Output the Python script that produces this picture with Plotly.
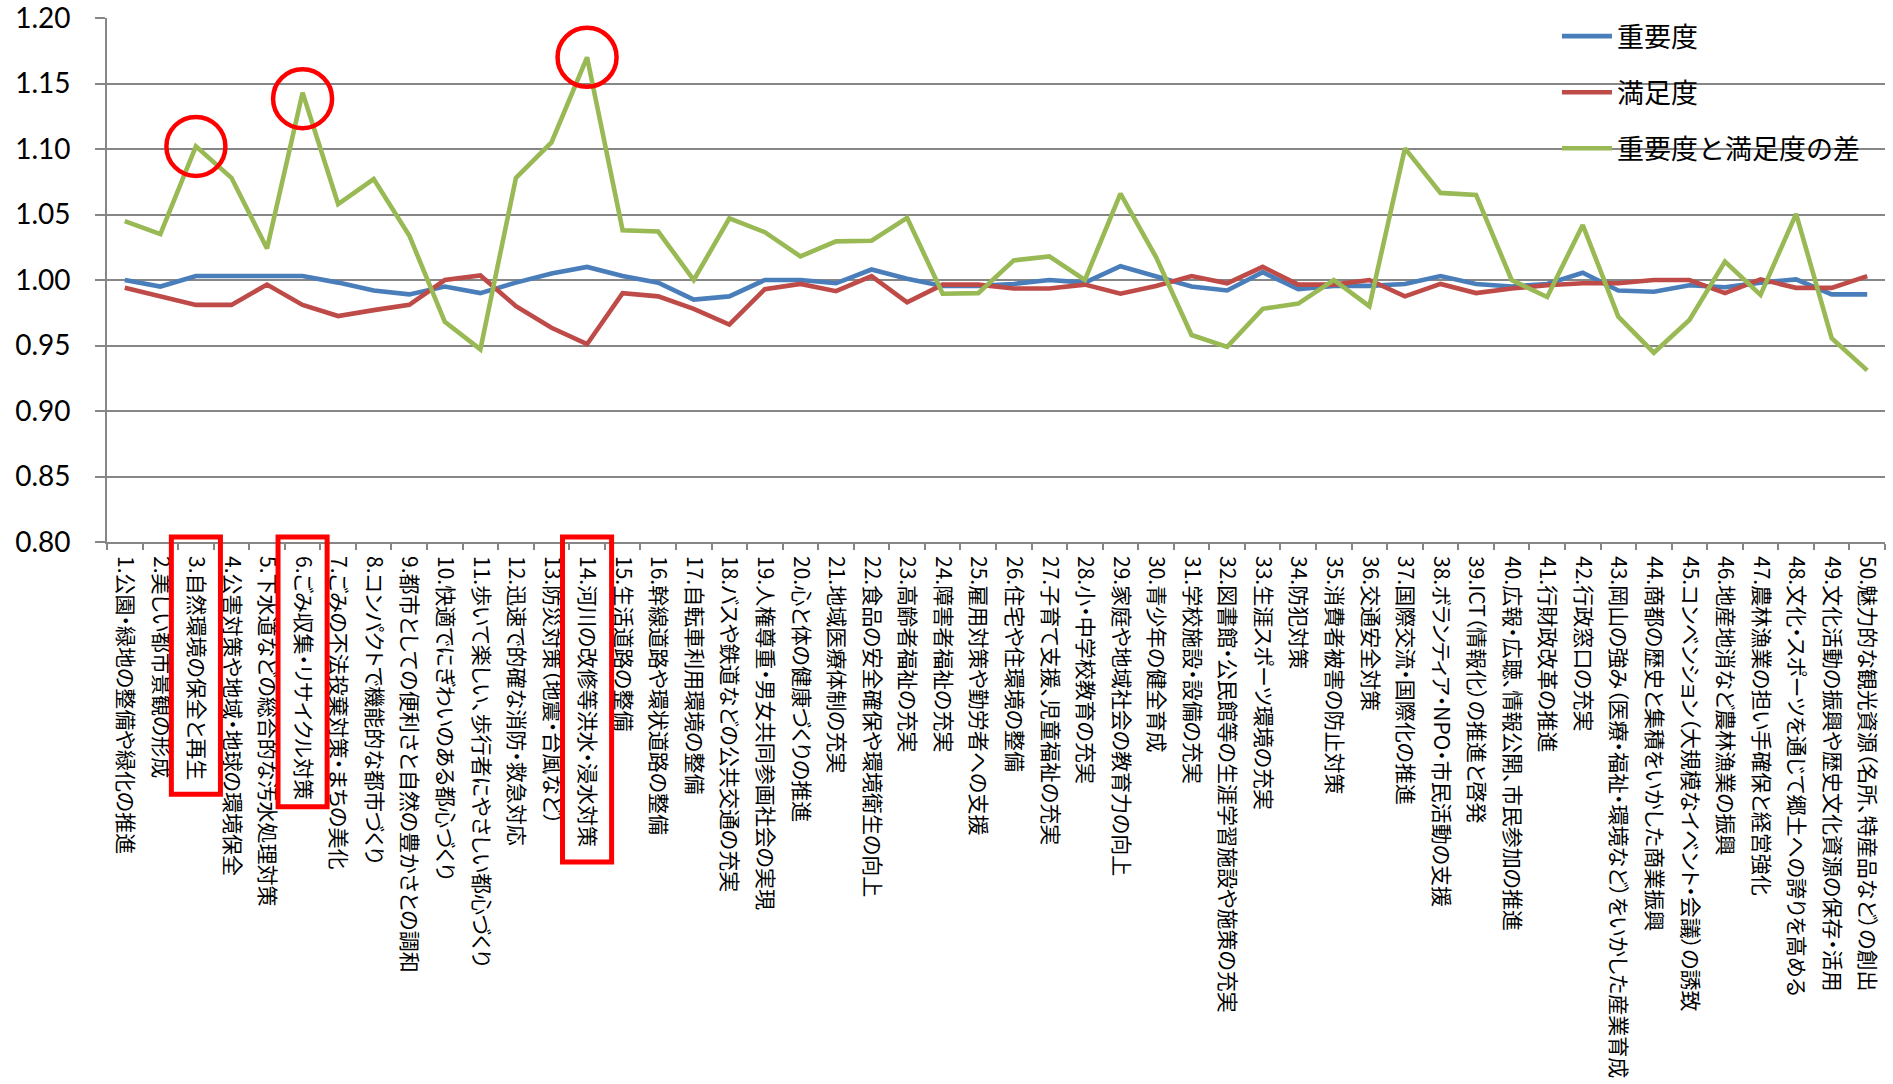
import plotly.graph_objects as go

# 50 policy items
categories = [
    "1.公園・緑地の整備や緑化の推進",
    "2.美しい都市景観の形成",
    "3.自然環境の保全と再生",
    "4.公害対策や地域・地球の環境保全",
    "5.下水道などの総合的な汚水処理対策",
    "6.ごみ収集・リサイクル対策",
    "7.ごみの不法投棄対策・まちの美化",
    "8.コンパクトで機能的な都市づくり",
    "9.都市としての便利さと自然の豊かさとの調和",
    "10.快適でにぎわいのある都心づくり",
    "11.歩いて楽しい、歩行者にやさしい都心づくり",
    "12.迅速で的確な消防・救急対応",
    "13.防災対策（地震・台風など）",
    "14.河川の改修等洪水・浸水対策",
    "15.生活道路の整備",
    "16.幹線道路や環状道路の整備",
    "17.自転車利用環境の整備",
    "18.バスや鉄道などの公共交通の充実",
    "19.人権尊重・男女共同参画社会の実現",
    "20.心と体の健康づくりの推進",
    "21.地域医療体制の充実",
    "22.食品の安全確保や環境衛生の向上",
    "23.高齢者福祉の充実",
    "24.障害者福祉の充実",
    "25.雇用対策や勤労者への支援",
    "26.住宅や住環境の整備",
    "27.子育て支援、児童福祉の充実",
    "28.小・中学校教育の充実",
    "29.家庭や地域社会の教育力の向上",
    "30.青少年の健全育成",
    "31.学校施設・設備の充実",
    "32.図書館・公民館等の生涯学習施設や施策の充実",
    "33.生涯スポーツ環境の充実",
    "34.防犯対策",
    "35.消費者被害の防止対策",
    "36.交通安全対策",
    "37.国際交流・国際化の推進",
    "38.ボランティア・NPO・市民活動の支援",
    "39.ICT（情報化）の推進と啓発",
    "40.広報・広聴、情報公開、市民参加の推進",
    "41.行財政改革の推進",
    "42.行政窓口の充実",
    "43.岡山の強み（医療・福祉・環境など）をいかした産業育成",
    "44.商都の歴史と集積をいかした商業振興",
    "45.コンベンション（大規模なイベント・会議）の誘致",
    "46.地産地消など農林漁業の振興",
    "47.農林漁業の担い手確保と経営強化",
    "48.文化・スポーツを通じて郷土への誇りを高める",
    "49.文化活動の振興や歴史文化資源の保存・活用",
    "50.魅力的な観光資源（名所、特産品など）の創出",
]

importance = [
    1.000, 0.995, 1.003, 1.003, 1.003, 1.003, 0.998, 0.992, 0.989, 0.995,
    0.990, 0.998, 1.005, 1.010, 1.003, 0.998, 0.985, 0.9875, 1.000, 1.000,
    0.9975, 1.008, 1.001, 0.9955, 0.9955, 0.997, 1.000, 0.998, 1.0105, 1.003,
    0.995, 0.992, 1.006, 0.993, 0.9955, 0.9955, 0.997, 1.003, 0.997, 0.995,
    0.997, 1.0055, 0.992, 0.991, 0.996, 0.9945, 0.998, 1.0005, 0.989, 0.989,
]

satisfaction = [
    0.994, 0.9875, 0.981, 0.981, 0.9965, 0.981, 0.9725, 0.977, 0.981, 1.000,
    1.0035, 0.980, 0.9635, 0.951, 0.990, 0.9875, 0.978, 0.966, 0.993, 0.997,
    0.9915, 1.003, 0.983, 0.9965, 0.9965, 0.9935, 0.9935, 0.9965, 0.9895, 0.9955,
    1.003, 0.9975, 1.010, 0.9965, 0.9965, 1.000, 0.9875, 0.997, 0.990, 0.9935,
    0.996, 0.9975, 0.9975, 1.000, 1.000, 0.990, 1.0005, 0.994, 0.994, 1.003,
]

difference = [
    1.045, 1.035, 1.102, 1.078, 1.024, 1.143, 1.058, 1.077, 1.034, 0.968,
    0.947, 1.078, 1.105, 1.170, 1.038, 1.037, 1.000, 1.047, 1.0365, 1.018,
    1.0295, 1.030, 1.0475, 0.9895, 0.990, 1.015, 1.018, 1.000, 1.066, 1.0175,
    0.958, 0.949, 0.978, 0.982, 1.000, 0.980, 1.1005, 1.0665, 1.065, 1.000,
    0.987, 1.042, 0.972, 0.9445, 0.9695, 1.014, 0.9886, 1.0505, 0.9556, 0.931,
]

series_names = ["重要度", "満足度", "重要度と満足度の差"]
y_ticks = [0.80, 0.85, 0.90, 0.95, 1.00, 1.05, 1.10, 1.15, 1.20]

# item numbers singled out with a circle on the line and a box round the label
highlighted = [3, 6, 14]

# ---- styling ----
COLORS = ["#4A7EBB", "#BE4B48", "#98B954"]
GRID = "#868686"
HIGHLIGHT = "#FF0000"
JP_FONT = "Noto Sans CJK JP"
LABEL_SIZE = 21
# hand-drawn circles are not all exactly centred on their point (pixels, + = down)
CIRCLE_NUDGE = {6: 6}

W, H = 1893, 1084
M_L, M_R, M_T, M_B = 107, 8, 17.5, 541.5
PLOT_H = H - M_T - M_B
LABEL_GAP = 14  # axis line to start of rotated tick label, px


def label_em(text):
    """Approximate advance of a label in em with proportional kana/punctuation."""
    w = 0.0
    for c in text:
        o = ord(c)
        if o < 128:
            w += 0.27 if c == "." else 0.55
        elif c in "・、（）":
            w += 0.5
        elif 0x3040 <= o <= 0x30FF:
            w += 0.82
        else:
            w += 1.0
    return w


fig = go.Figure()
for name, values, color in zip(series_names, [importance, satisfaction, difference], COLORS):
    fig.add_trace(go.Scatter(
        x=categories, y=values, name=name, mode="lines",
        line=dict(color=color, width=4.6),
        legendgroup=name,
    ))

n = len(categories)
shapes = []
for item in highlighted:
    idx = item - 1
    dy = CIRCLE_NUDGE.get(item, 0)
    # circle around the point on the difference line
    shapes.append(dict(
        type="circle", xref="x", yref="y",
        xsizemode="pixel", ysizemode="pixel",
        xanchor=idx, yanchor=difference[idx],
        x0=-29.5, x1=29.5, y0=-29.5 - dy, y1=29.5 - dy,
        line=dict(color=HIGHLIGHT, width=4.5),
    ))
    # box around the rotated tick label, sized from the label's length
    bottom_px = LABEL_GAP + label_em(categories[idx]) * LABEL_SIZE + 19
    shapes.append(dict(
        type="rect", xref="x", yref="paper",
        x0=idx - 0.69, x1=idx + 0.69,
        y0=5 / PLOT_H, y1=-bottom_px / PLOT_H,
        line=dict(color=HIGHLIGHT, width=5),
        fillcolor="rgba(0,0,0,0)",
    ))

fig.update_layout(
    template="none",
    width=W, height=H,
    margin=dict(l=M_L, r=M_R, t=M_T, b=M_B, pad=0),
    paper_bgcolor="white", plot_bgcolor="white",
    showlegend=True,
    legend=dict(
        x=0.8155, y=1.0114, xanchor="left", yanchor="top",
        bgcolor="rgba(0,0,0,0)", borderwidth=0,
        font=dict(family=JP_FONT, size=27, color="black"),
        traceorder="grouped", tracegroupgap=18,
        itemwidth=50,
    ),
    shapes=shapes,
    xaxis=dict(
        type="category",
        range=[-0.5, n - 0.5],
        tickangle=90,
        tickfont=dict(family=JP_FONT, size=LABEL_SIZE, color="black"),
        tickson="boundaries",
        ticks="outside", ticklen=6, tickwidth=1.5, tickcolor=GRID,
        ticklabelstandoff=8,
        showline=True, linecolor=GRID, linewidth=1.6,
        showgrid=False, zeroline=False,
        automargin=False,
    ),
    yaxis=dict(
        range=[0.80, 1.2000001],
        tickvals=y_ticks,
        tickformat=".2f",
        tickfont=dict(family="Lato", size=28, color="black"),
        ticks="outside", ticklen=10, tickwidth=1.5, tickcolor=GRID,
        ticklabelstandoff=19,
        ticklabeloverflow="allow",
        showline=True, linecolor=GRID, linewidth=1.6,
        showgrid=True, gridcolor=GRID, gridwidth=1.6,
        zeroline=False,
        automargin=False,
    ),
)

# proportional widths for kana and punctuation in the category labels
post = """
var st = document.createElement('style');
st.textContent = '.xtick text { font-feature-settings: "palt" 1; }';
document.head.appendChild(st);
"""

fig.write_html("out.html", post_script=post)
